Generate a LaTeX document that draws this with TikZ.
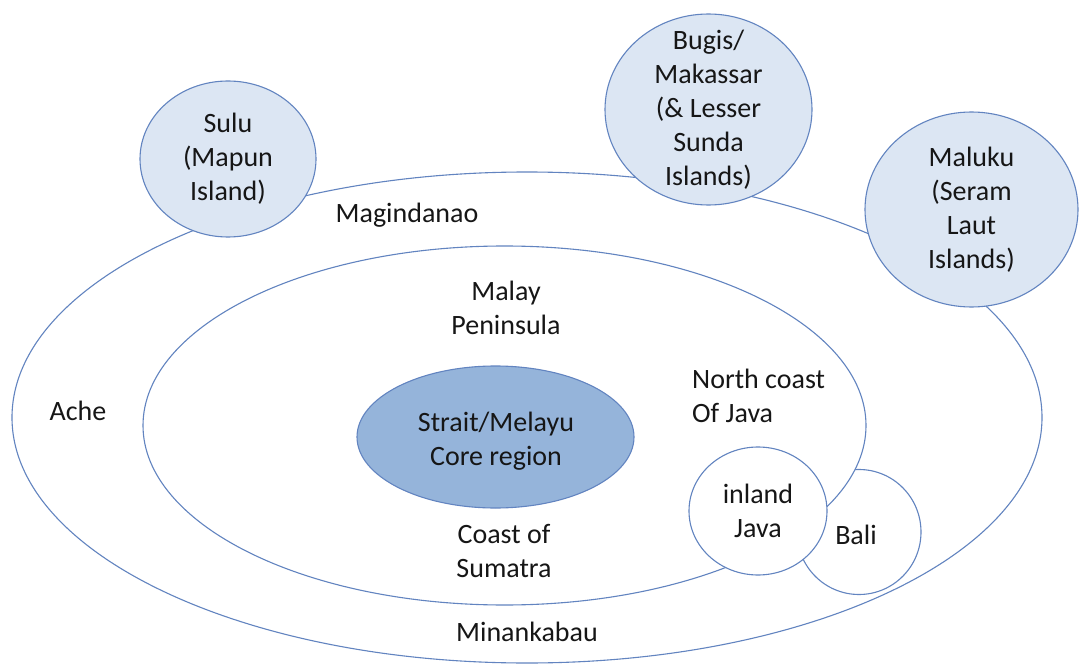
\documentclass[tikz,border=0pt]{standalone}
\usepackage{fontspec}
\setmainfont{Carlito}
\usetikzlibrary{shapes.geometric}

\definecolor{rimblue}{RGB}{98,132,192}
\definecolor{paleblue}{RGB}{220,230,243}
\definecolor{coreblue}{RGB}{149,180,218}
\definecolor{inkgray}{RGB}{22,22,22}

\tikzset{
  zone/.style={ellipse, draw=rimblue, line width=1.1pt, inner sep=0pt, fill=white},
  island/.style={zone, fill=paleblue},
  corezone/.style={zone, fill=coreblue},
  txt/.style={align=center, inner sep=0pt, text=inkgray,
              font=\fontsize{28}{34}\selectfont},
}

\begin{document}
\begin{tikzpicture}[x=1pt, y=-1pt]
  \useasboundingbox (0,0) rectangle (1080,666);
  \fill[white] (0,0) rectangle (1080,666);

  % outer ring
  \node[zone, minimum width=1030pt, minimum height=491pt] (outer) at (527,417.5) {};

  % outlying islands sitting on the outer ring
  \node[island, minimum width=176pt, minimum height=156pt] (sulu) at (228,159) {};
  \node[island, minimum width=207pt, minimum height=191pt] (bugis) at (708.5,109.5) {};
  \node[island, minimum width=213pt, minimum height=195pt] (maluku) at (971.5,209.5) {};

  % Bali, partly covered by the inner ring
  \node[zone, minimum width=124pt, minimum height=125pt] (bali) at (859,532) {};

  % inner ring
  \node[zone, minimum width=723pt, minimum height=359pt] (inner) at (504.5,425.5) {};

  % core
  \node[corezone, minimum width=277pt, minimum height=142pt] (core) at (495.5,437) {};

  % inland Java on top
  \node[zone, minimum width=138pt, minimum height=128pt] (java) at (758,511) {};

  % labels
  \node[txt] (tsulu) at (sulu.center) {Sulu\\(Mapun\\Island)};
  \node[txt] (tbugis) at (bugis.center) {Bugis/\\Makassar\\(\& Lesser\\Sunda\\Islands)};
  \node[txt] (tmaluku) at (maluku.center) {Maluku\\(Seram\\Laut\\Islands)};
  \node[txt] (tmagind) at (407,215) {Magindanao};
  \node[txt] (tache) at (78,411) {Ache};
  \node[txt] (tmalay) at (506,308) {Malay\\Peninsula};
  \node[txt, align=left, anchor=west] (tnorth) at (692,396) {North coast\\Of Java};
  \node[txt] (tcore) at (496,441) {Strait/Melayu\\Core region};
  \node[txt] (tsumatra) at (504,551) {Coast of\\Sumatra};
  \node[txt] (tjava) at (java.center) {inland\\Java};
  \node[txt] (tbali) at (856,535) {Bali};
  \node[txt] (tminan) at (527,632) {Minankabau};
\end{tikzpicture}
\end{document}
